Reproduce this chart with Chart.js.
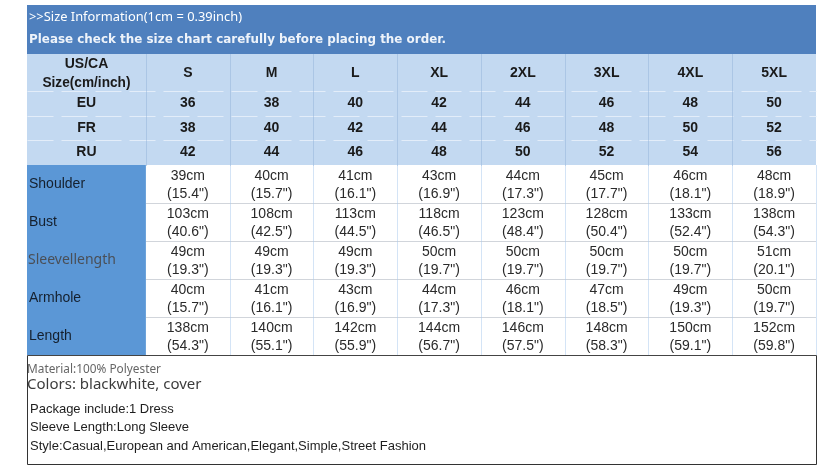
<!DOCTYPE html>
<html>
<head>
<meta charset="utf-8">
<script src="https://cdn.jsdelivr.net/npm/chart.js@4.4.0/dist/chart.umd.min.js"></script>
<style>
  html, body { margin: 0; padding: 0; background: #fff; }
  canvas { display: block; }
</style>
</head>
<body>
<canvas id="sizeChart" width="830" height="470"></canvas>
<script>
// data
const titleText = '>>Size Information(1cm = 0.39inch)';
const noticeText = 'Please check the size chart carefully before placing the order.';
const sizes = ['S', 'M', 'L', 'XL', '2XL', '3XL', '4XL', '5XL'];
const euSizes = [36, 38, 40, 42, 44, 46, 48, 50];
const frSizes = [38, 40, 42, 44, 46, 48, 50, 52];
const ruSizes = [42, 44, 46, 48, 50, 52, 54, 56];

const measureNames = ['Shoulder', 'Bust', 'Sleevellength', 'Armhole', 'Length'];
const shoulderCm = [39, 40, 41, 43, 44, 45, 46, 48];
const shoulderIn = ['15.4', '15.7', '16.1', '16.9', '17.3', '17.7', '18.1', '18.9'];
const bustCm = [103, 108, 113, 118, 123, 128, 133, 138];
const bustIn = ['40.6', '42.5', '44.5', '46.5', '48.4', '50.4', '52.4', '54.3'];
const sleeveCm = [49, 49, 49, 50, 50, 50, 50, 51];
const sleeveIn = ['19.3', '19.3', '19.3', '19.7', '19.7', '19.7', '19.7', '20.1'];
const armholeCm = [40, 41, 43, 44, 46, 47, 49, 50];
const armholeIn = ['15.7', '16.1', '16.9', '17.3', '18.1', '18.5', '19.3', '19.7'];
const lengthCm = [138, 140, 142, 144, 146, 148, 150, 152];
const lengthIn = ['54.3', '55.1', '55.9', '56.7', '57.5', '58.3', '59.1', '59.8'];

const notes = [
  'Material:100% Polyester',
  'Colors: blackwhite, cover',
  'Package include:1 Dress',
  'Sleeve Length:Long Sleeve',
  'Style:Casual,European and American,Elegant,Simple,Street Fashion'
];

// layout (scale units)
const LABEL_W = 1.42;              // first column, in size-column widths
const X_MAX = LABEL_W + sizes.length;
const BAND_H = 49, HEAD_H = 37, INTL_H = [25, 24, 25], MEAS_H = 38, BOX_H = 109;
const Y_MAX = BAND_H + HEAD_H + INTL_H[0] + INTL_H[1] + INTL_H[2] + MEAS_H * measureNames.length + BOX_H;

const ARIAL = '"Liberation Sans", Arial, sans-serif';
const NOTO = '"Noto Sans", "Open Sans", sans-serif';

function colCenter(i) { return LABEL_W + i + 0.5; }

const sizeTablePlugin = {
  id: 'sizeTable',
  afterDraw(chart) {
    const ctx = chart.ctx;
    const xs = chart.scales.x, ys = chart.scales.y;
    const px = v => xs.getPixelForValue(v);
    const py = v => ys.getPixelForValue(v);

    function fillBox(x0, y0, x1, y1, color) {
      ctx.fillStyle = color;
      ctx.fillRect(px(x0), py(y0), px(x1) - px(x0), py(y1) - py(y0));
    }
    function line(x0, y0, x1, y1, color, dash, width) {
      ctx.save();
      ctx.strokeStyle = color;
      ctx.lineWidth = width || 1;
      ctx.setLineDash(dash || []);
      ctx.beginPath();
      ctx.moveTo(Math.round(px(x0)) + 0.5, Math.round(py(y0)) + 0.5);
      ctx.lineTo(Math.round(px(x1)) + 0.5, Math.round(py(y1)) + 0.5);
      ctx.stroke();
      ctx.restore();
    }
    function text(str, x, y, font, color, align, maxW, dx) {
      ctx.font = font;
      ctx.fillStyle = color;
      ctx.textAlign = align || 'center';
      ctx.textBaseline = 'middle';
      const xp = px(x) + (dx || 0);
      if (maxW) ctx.fillText(str, xp, py(y), maxW);
      else ctx.fillText(str, xp, py(y));
    }

    // row boundaries
    const yBand = 0;
    const yHead = yBand + BAND_H;
    const yEu = yHead + HEAD_H;
    const yFr = yEu + INTL_H[0];
    const yRu = yFr + INTL_H[1];
    const yMeas = yRu + INTL_H[2];
    const yBox = yMeas + MEAS_H * measureNames.length;

    ctx.save();

    // backgrounds
    fillBox(0, yBand, X_MAX, yHead, '#4F80BE');
    fillBox(0, yHead, X_MAX, yMeas, '#C3D9F1');
    fillBox(0, yMeas, LABEL_W, yBox, '#5B97D6');
    fillBox(LABEL_W, yMeas, X_MAX, yBox, '#FFFFFF');

    // grid in the light blue part
    [yEu, yFr, yRu].forEach(y => line(0, y, X_MAX, y, '#E3EDF9', [26, 8]));
    for (let i = 0; i < sizes.length; i++) {
      const x = LABEL_W + i;
      line(x, yHead, x, yMeas, '#93B3DA', [1, 1]);
    }
    // grid in the white part
    for (let r = 1; r < measureNames.length; r++) {
      const y = yMeas + MEAS_H * r;
      line(LABEL_W, y, X_MAX, y, '#A3AAB6', [1, 1]);
    }
    for (let i = 1; i <= sizes.length; i++) {
      line(LABEL_W + i, yMeas, LABEL_W + i, yBox, '#A9C9EE', [1, 1]);
    }

    // bottom box
    line(0, yBox, X_MAX, yBox, '#444', [], 1);
    line(0, yBox, 0, Y_MAX, '#333');
    line(X_MAX, yBox, X_MAX, Y_MAX, '#333');
    line(0, Y_MAX, X_MAX, Y_MAX, '#333');

    // header band text
    text(titleText, 0, yBand + 12, '13px ' + NOTO, '#FFFFFF', 'left', 213, 2);
    text(noticeText, 0, yBand + 35, 'bold 12px "DejaVu Sans", Verdana, sans-serif', '#EEF3FA', 'left', 417, 2);

    // size header row
    const bold14 = 'bold 14px ' + ARIAL;
    text('US/CA', LABEL_W / 2, yHead + 10, bold14, '#1A1A1A');
    text('Size(cm/inch)', LABEL_W / 2, yHead + 29, bold14, '#1A1A1A', 'center', 88);
    sizes.forEach((s, i) => text(s, colCenter(i), yHead + 19, bold14, '#1A1A1A'));

    // international sizes
    const intl = [['EU', euSizes, yEu, INTL_H[0]], ['FR', frSizes, yFr, INTL_H[1]], ['RU', ruSizes, yRu, INTL_H[2]]];
    intl.forEach(([name, vals, y0, h]) => {
      const yc = y0 + h / 2;
      text(name, LABEL_W / 2, yc, bold14, '#1A1A1A');
      vals.forEach((v, i) => text(String(v), colCenter(i), yc, bold14, '#1A1A1A'));
    });

    // measurements
    const cmRows = [shoulderCm, bustCm, sleeveCm, armholeCm, lengthCm];
    const inRows = [shoulderIn, bustIn, sleeveIn, armholeIn, lengthIn];
    const reg14 = '14px ' + ARIAL;
    measureNames.forEach((name, r) => {
      const y0 = yMeas + MEAS_H * r;
      if (name === 'Sleevellength') {
        text(name, 0, y0 + MEAS_H / 2, '14px ' + NOTO, '#4A4F57', 'left', 90, 1);
      } else {
        text(name, 0, y0 + MEAS_H / 2, '14px ' + ARIAL, '#15202E', 'left', null, 2);
      }
      cmRows[r].forEach((v, i) => {
        text(v + 'cm', colCenter(i), y0 + 11, reg14, '#2A2A2A');
        text('(' + inRows[r][i] + '")', colCenter(i), y0 + 29, reg14, '#2A2A2A');
      });
    });

    // notes
    const reg13 = '13px ' + ARIAL;
    text(notes[0], 0, yBox + 14, '12.5px ' + NOTO, '#666666', 'left', 134, 0);
    text(notes[1], 0, yBox + 30, '15px ' + NOTO, '#3C3C3C', 'left', 190, 0);
    text(notes[2], 0, yBox + 54, reg13, '#1E1E1E', 'left', 155, 3);
    text(notes[3], 0, yBox + 72, reg13, '#1E1E1E', 'left', 168, 3);
    text(notes[4], 0, yBox + 91, reg13, '#1E1E1E', 'left', 423, 3);

    ctx.restore();
  }
};

new Chart(document.getElementById('sizeChart'), {
  type: 'scatter',
  data: { datasets: [{ data: [] }] },
  options: {
    responsive: false,
    animation: false,
    events: [],
    layout: { padding: { left: 27, right: 14, top: 5, bottom: 6 } },
    plugins: { legend: { display: false }, tooltip: { enabled: false } },
    scales: {
      x: { type: 'linear', min: 0, max: X_MAX, display: false },
      y: { type: 'linear', min: 0, max: Y_MAX, reverse: true, display: false }
    }
  },
  plugins: [sizeTablePlugin]
});
</script>
</body>
</html>
